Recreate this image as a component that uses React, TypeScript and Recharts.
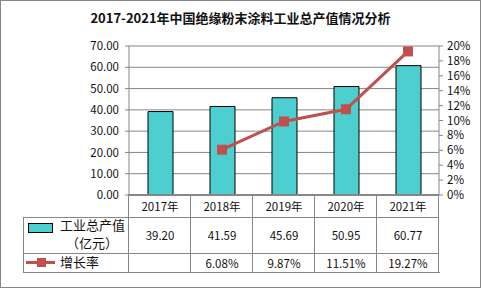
import React from 'react';
import { ComposedChart, Bar, Line, XAxis, YAxis, CartesianGrid } from 'recharts';

const years = ['2017年', '2018年', '2019年', '2020年', '2021年'];
const outputValues = [39.2, 41.59, 45.69, 50.95, 60.77];
const growthRates: (number | null)[] = [null, 6.08, 9.87, 11.51, 19.27];
const leftTicks = [0, 10, 20, 30, 40, 50, 60, 70];
const rightTicks = [0, 2, 4, 6, 8, 10, 12, 14, 16, 18, 20];

const W = 481;
const H = 289;
const PLOT_LEFT = 129;
const PLOT_RIGHT = 439;
const PLOT_TOP = 46;
const PLOT_BOTTOM = 195;
const COL_W = (PLOT_RIGHT - PLOT_LEFT) / years.length;
const TABLE_LEFT = 23;
const ROW1_BOTTOM = 217;
const ROW2_BOTTOM = 253;
const ROW3_BOTTOM = 272;

const GRID = '#878787';
const TEAL = '#4DCFD0';
const RED = '#C0504D';
const FONT = '"Noto Sans CJK SC", "Noto Sans", sans-serif';

const data = years.map((year, i) => ({
    year,
    output: outputValues[i],
    growth: growthRates[i],
}));

const SquareDot = (props: any) => {
    const { cx, cy, value } = props;
    if (value == null || cx == null || cy == null) return null;
    return <rect x={cx - 5} y={cy - 5} width={10} height={10} fill={RED} />;
};

const cellText: React.CSSProperties = {
    position: 'absolute',
    fontSize: 11.5,
    color: '#111',
    textAlign: 'center',
    width: COL_W,
    lineHeight: '14px',
};

export default function App() {
    return (
        <div style={{ position: 'absolute', left: 0, top: 0, width: W, height: H, background: '#fff', fontFamily: FONT }}>
            <div
                style={{
                    position: 'absolute',
                    left: 0,
                    top: 0,
                    width: W - 2,
                    height: H - 3,
                    border: `1px solid ${GRID}`,
                }}
            />
            <div
                style={{
                    position: 'absolute',
                    left: 0,
                    top: 9,
                    width: W,
                    textAlign: 'center',
                    fontSize: 13,
                    fontWeight: 'bold',
                    color: '#111',
                    lineHeight: '18px',
                }}
            >
                2017-2021年中国绝缘粉末涂料工业总产值情况分析
            </div>
            <div style={{ position: 'absolute', left: 0, top: 0 }}>
                <ComposedChart
                    width={W}
                    height={H}
                    data={data}
                    margin={{ top: PLOT_TOP, right: W - PLOT_RIGHT - 40, bottom: H - PLOT_BOTTOM, left: PLOT_LEFT - 60 }}
                    barCategoryGap="60%"
                >
                    <CartesianGrid yAxisId="l" vertical={false} stroke={GRID} strokeWidth={1} />
                    <XAxis dataKey="year" hide />
                    <YAxis
                        yAxisId="l"
                        width={60}
                        domain={[0, 70]}
                        ticks={leftTicks}
                        tickFormatter={(v: number) => v.toFixed(2)}
                        axisLine={{ stroke: GRID }}
                        tickLine={{ stroke: GRID }}
                        tickSize={4}
                        tickMargin={6}
                        tick={{ fontSize: 11.5, fill: '#111', fontFamily: FONT }}
                        interval={0}
                    />
                    <YAxis
                        yAxisId="r"
                        orientation="right"
                        width={40}
                        domain={[0, 20]}
                        ticks={rightTicks}
                        tickFormatter={(v: number) => `${v}%`}
                        axisLine={{ stroke: GRID }}
                        tickLine={{ stroke: GRID }}
                        tickSize={4}
                        tickMargin={4}
                        tick={{ fontSize: 11.5, fill: '#111', fontFamily: FONT }}
                        interval={0}
                    />
                    <Bar yAxisId="l" dataKey="output" fill={TEAL} stroke="#000" strokeWidth={1} barSize={25} isAnimationActive={false} />
                    <Line
                        yAxisId="r"
                        dataKey="growth"
                        stroke={RED}
                        strokeWidth={3}
                        dot={<SquareDot />}
                        activeDot={false}
                        isAnimationActive={false}
                    />
                </ComposedChart>
            </div>

            {/* data table */}
            <div style={{ position: 'absolute', left: PLOT_LEFT - 1, top: PLOT_BOTTOM - 1, width: PLOT_RIGHT - PLOT_LEFT + 1, height: 2, background: GRID }} />
            <div style={{ position: 'absolute', left: PLOT_LEFT - 1, top: PLOT_BOTTOM, width: 1, height: ROW1_BOTTOM - PLOT_BOTTOM, background: GRID }} />
            <div style={{ position: 'absolute', left: TABLE_LEFT, top: ROW1_BOTTOM, width: PLOT_RIGHT - TABLE_LEFT, height: 1, background: GRID }} />
            <div style={{ position: 'absolute', left: TABLE_LEFT, top: ROW2_BOTTOM, width: PLOT_RIGHT - TABLE_LEFT, height: 1, background: GRID }} />
            <div style={{ position: 'absolute', left: TABLE_LEFT, top: ROW3_BOTTOM, width: PLOT_RIGHT - TABLE_LEFT + 1, height: 1, background: GRID }} />
            <div style={{ position: 'absolute', left: TABLE_LEFT, top: ROW1_BOTTOM, width: 1, height: ROW3_BOTTOM - ROW1_BOTTOM, background: GRID }} />
            {years.map((_, i) => (
                <div
                    key={`v${i}`}
                    style={{
                        position: 'absolute',
                        left: Math.round(PLOT_LEFT - 1 + COL_W * (i + 1)),
                        top: PLOT_BOTTOM,
                        width: 1,
                        height: ROW3_BOTTOM - PLOT_BOTTOM,
                        background: GRID,
                    }}
                />
            ))}
            <div style={{ position: 'absolute', left: PLOT_LEFT - 1, top: ROW1_BOTTOM, width: 1, height: ROW3_BOTTOM - ROW1_BOTTOM, background: GRID }} />

            {years.map((y, i) => (
                <div key={`y${i}`} style={{ ...cellText, left: PLOT_LEFT + COL_W * i, top: 199 }}>
                    {y}
                </div>
            ))}
            {outputValues.map((v, i) => (
                <div key={`o${i}`} style={{ ...cellText, left: PLOT_LEFT + COL_W * i, top: 228 }}>
                    {v.toFixed(2)}
                </div>
            ))}
            {growthRates.map((v, i) => (
                <div key={`g${i}`} style={{ ...cellText, left: PLOT_LEFT + COL_W * i, top: 256 }}>
                    {v == null ? '' : `${v.toFixed(2)}%`}
                </div>
            ))}

            {/* legend keys in table */}
            <div style={{ position: 'absolute', left: 28, top: 223, width: 23, height: 8, background: TEAL, border: '1px solid #000' }} />
            <div style={{ position: 'absolute', left: 60, top: 218, fontSize: 13, lineHeight: '14px', color: '#111' }}>工业总产值</div>
            <div style={{ position: 'absolute', left: 60, top: 236, width: 64, textAlign: 'center', fontSize: 13, lineHeight: '14px', color: '#111' }}>（亿元）</div>
            <div style={{ position: 'absolute', left: 26, top: 261, width: 29, height: 3, background: RED }} />
            <div style={{ position: 'absolute', left: 37, top: 258, width: 9, height: 9, background: RED }} />
            <div style={{ position: 'absolute', left: 60, top: 255, fontSize: 13, lineHeight: '14px', color: '#111' }}>增长率</div>
        </div>
    );
}
